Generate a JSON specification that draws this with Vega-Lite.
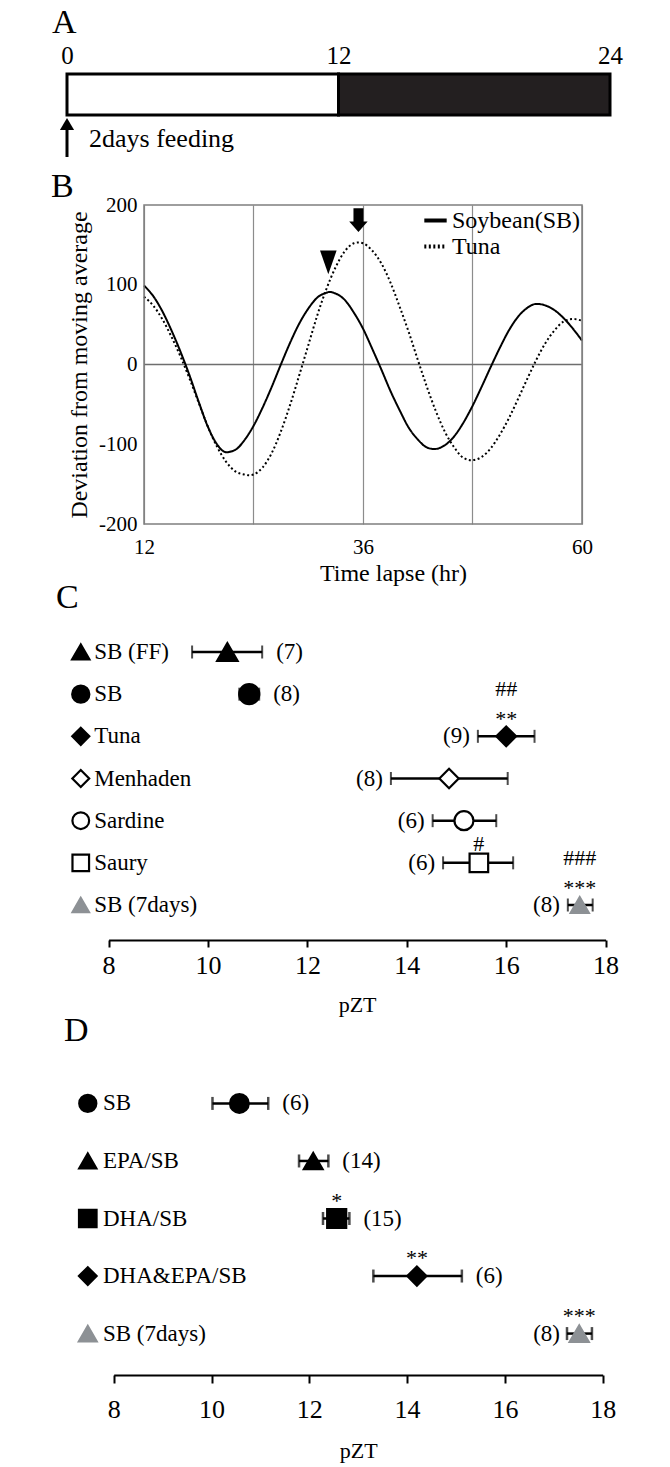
{
"$schema": "https://vega.github.io/schema/vega-lite/v6.json",
"padding": {"left": 51, "top": 6, "right": 2, "bottom": 2},
"bounds": "flush",
"spacing": 0,
"resolve": {
  "scale": {"shape": "independent", "fill": "independent", "stroke": "independent", "size": "independent", "strokeDash": "independent", "x": "independent", "y": "independent"},
  "legend": {"strokeDash": "independent", "shape": "independent", "fill": "independent", "stroke": "independent", "size": "independent"}
},
"config": {
  "font": "Liberation Serif",
  "view": {"stroke": null},
  "axis": {"labelFont": "Liberation Serif", "titleFont": "Liberation Serif", "labelColor": "black", "titleColor": "black", "titleFontWeight": "normal", "labelFlush": false, "labelOverlap": false},
  "title": {"font": "Liberation Serif", "fontWeight": "normal", "fontSize": 34, "color": "black"},
  "legend": {"labelFont": "Liberation Serif", "labelColor": "black"},
  "text": {"font": "Liberation Serif", "color": "black"},
  "concat": {"spacing": 0}
},
"vconcat": [
  {
    "width": 543, "height": 131,
    "title": {"text": "A", "anchor": "start", "frame": "group", "dx": -15, "offset": 3},
    "layer": [
      {
        "data": {"values": [{"start": 0, "end": 12, "phase": "light"}, {"start": 12, "end": 24, "phase": "dark"}]},
        "mark": {"type": "rect", "stroke": "black", "strokeWidth": 3},
        "encoding": {
          "x": {"field": "start", "type": "quantitative", "scale": {"domain": [0, 24], "nice": false}, "axis": {"orient": "top", "values": [0, 12, 24], "ticks": false, "domain": false, "grid": false, "labelFontSize": 25, "labelPadding": 6, "title": null}},
          "x2": {"field": "end"},
          "y": {"datum": 0, "type": "quantitative", "scale": {"domain": [0, 131], "reverse": true, "nice": false}, "axis": null},
          "y2": {"datum": 41},
          "fill": {"field": "phase", "type": "nominal", "scale": {"domain": ["light", "dark"], "range": ["white", "#231f20"]}, "legend": null}
        }
      },
      {
        "data": {"values": [{"hr": 0, "label": "2days feeding"}]},
        "layer": [
          {"mark": {"type": "rule", "color": "black", "strokeWidth": 3}, "encoding": {"x": {"field": "hr", "type": "quantitative"}, "y": {"datum": 50}, "y2": {"datum": 83}}},
          {"mark": {"type": "point", "shape": "triangle-up", "filled": true, "color": "black", "opacity": 1, "size": 200}, "encoding": {"x": {"field": "hr", "type": "quantitative"}, "y": {"datum": 50}}},
          {"mark": {"type": "text", "align": "left", "baseline": "middle", "fontSize": 26, "dx": 22}, "encoding": {"x": {"field": "hr", "type": "quantitative"}, "y": {"datum": 65}, "text": {"field": "label"}}}
        ]
      }
    ]
  },
  {
    "width": 515, "height": 319,
    "title": {"text": "B", "anchor": "start", "frame": "group", "dx": -16, "offset": -10},
    "layer": [
      {"data": {"values": [{}]}, "mark": {"type": "rule", "color": "#6e6e6e", "strokeWidth": 1.5}, "encoding": {"x": {"datum": 12, "type": "quantitative"}, "x2": {"datum": 60}, "y": {"datum": 0, "type": "quantitative"}}},
      {
        "data": {"values": [
          {"hr":12,"value":99,"series":"Soybean(SB)"},{"hr":13,"value":86,"series":"Soybean(SB)"},{"hr":14,"value":67,"series":"Soybean(SB)"},{"hr":15,"value":43,"series":"Soybean(SB)"},{"hr":16,"value":16,"series":"Soybean(SB)"},{"hr":17,"value":-14,"series":"Soybean(SB)"},{"hr":18,"value":-47,"series":"Soybean(SB)"},{"hr":19,"value":-78,"series":"Soybean(SB)"},{"hr":20,"value":-100,"series":"Soybean(SB)"},{"hr":21,"value":-110,"series":"Soybean(SB)"},{"hr":22,"value":-107,"series":"Soybean(SB)"},{"hr":23,"value":-95,"series":"Soybean(SB)"},{"hr":24,"value":-77,"series":"Soybean(SB)"},{"hr":25,"value":-54,"series":"Soybean(SB)"},{"hr":26,"value":-28,"series":"Soybean(SB)"},{"hr":27,"value":0,"series":"Soybean(SB)"},{"hr":28,"value":27,"series":"Soybean(SB)"},{"hr":29,"value":51,"series":"Soybean(SB)"},{"hr":30,"value":70,"series":"Soybean(SB)"},{"hr":31,"value":84,"series":"Soybean(SB)"},{"hr":32,"value":90,"series":"Soybean(SB)"},{"hr":32.3,"value":91,"series":"Soybean(SB)"},{"hr":33,"value":89,"series":"Soybean(SB)"},{"hr":34,"value":81,"series":"Soybean(SB)"},{"hr":35,"value":65,"series":"Soybean(SB)"},{"hr":36,"value":45,"series":"Soybean(SB)"},{"hr":37,"value":20,"series":"Soybean(SB)"},{"hr":38,"value":-6,"series":"Soybean(SB)"},{"hr":39,"value":-33,"series":"Soybean(SB)"},{"hr":40,"value":-57,"series":"Soybean(SB)"},{"hr":41,"value":-79,"series":"Soybean(SB)"},{"hr":42,"value":-94,"series":"Soybean(SB)"},{"hr":43,"value":-104,"series":"Soybean(SB)"},{"hr":43.8,"value":-106,"series":"Soybean(SB)"},{"hr":45,"value":-101,"series":"Soybean(SB)"},{"hr":46,"value":-90,"series":"Soybean(SB)"},{"hr":47,"value":-73,"series":"Soybean(SB)"},{"hr":48,"value":-52,"series":"Soybean(SB)"},{"hr":49,"value":-28,"series":"Soybean(SB)"},{"hr":50,"value":-3,"series":"Soybean(SB)"},{"hr":51,"value":21,"series":"Soybean(SB)"},{"hr":52,"value":43,"series":"Soybean(SB)"},{"hr":53,"value":60,"series":"Soybean(SB)"},{"hr":54,"value":71,"series":"Soybean(SB)"},{"hr":55,"value":76,"series":"Soybean(SB)"},{"hr":56,"value":74,"series":"Soybean(SB)"},{"hr":57,"value":68,"series":"Soybean(SB)"},{"hr":58,"value":58,"series":"Soybean(SB)"},{"hr":59,"value":45,"series":"Soybean(SB)"},{"hr":60,"value":30,"series":"Soybean(SB)"},
          {"hr":12,"value":85,"series":"Tuna"},{"hr":13,"value":74,"series":"Tuna"},{"hr":14,"value":57,"series":"Tuna"},{"hr":15,"value":35,"series":"Tuna"},{"hr":16,"value":10,"series":"Tuna"},{"hr":17,"value":-18,"series":"Tuna"},{"hr":18,"value":-48,"series":"Tuna"},{"hr":19,"value":-78,"series":"Tuna"},{"hr":20,"value":-103,"series":"Tuna"},{"hr":21,"value":-122,"series":"Tuna"},{"hr":22,"value":-134,"series":"Tuna"},{"hr":23,"value":-138,"series":"Tuna"},{"hr":23.6,"value":-139,"series":"Tuna"},{"hr":24,"value":-138,"series":"Tuna"},{"hr":25,"value":-129,"series":"Tuna"},{"hr":26,"value":-111,"series":"Tuna"},{"hr":27,"value":-84,"series":"Tuna"},{"hr":28,"value":-51,"series":"Tuna"},{"hr":29,"value":-14,"series":"Tuna"},{"hr":30,"value":24,"series":"Tuna"},{"hr":31,"value":62,"series":"Tuna"},{"hr":32,"value":95,"series":"Tuna"},{"hr":33,"value":122,"series":"Tuna"},{"hr":34,"value":142,"series":"Tuna"},{"hr":35,"value":152,"series":"Tuna"},{"hr":35.5,"value":153,"series":"Tuna"},{"hr":36,"value":152,"series":"Tuna"},{"hr":37,"value":143,"series":"Tuna"},{"hr":38,"value":127,"series":"Tuna"},{"hr":39,"value":103,"series":"Tuna"},{"hr":40,"value":73,"series":"Tuna"},{"hr":41,"value":41,"series":"Tuna"},{"hr":42,"value":6,"series":"Tuna"},{"hr":43,"value":-28,"series":"Tuna"},{"hr":44,"value":-59,"series":"Tuna"},{"hr":45,"value":-85,"series":"Tuna"},{"hr":46,"value":-104,"series":"Tuna"},{"hr":47,"value":-117,"series":"Tuna"},{"hr":47.9,"value":-120,"series":"Tuna"},{"hr":49,"value":-116,"series":"Tuna"},{"hr":50,"value":-105,"series":"Tuna"},{"hr":51,"value":-88,"series":"Tuna"},{"hr":52,"value":-67,"series":"Tuna"},{"hr":53,"value":-43,"series":"Tuna"},{"hr":54,"value":-18,"series":"Tuna"},{"hr":55,"value":6,"series":"Tuna"},{"hr":56,"value":27,"series":"Tuna"},{"hr":57,"value":43,"series":"Tuna"},{"hr":58,"value":54,"series":"Tuna"},{"hr":59,"value":57,"series":"Tuna"},{"hr":60,"value":55,"series":"Tuna"}
        ]},
        "mark": {"type": "line", "color": "black", "strokeWidth": 2, "interpolate": "monotone"},
        "encoding": {
          "x": {"field": "hr", "type": "quantitative", "scale": {"domain": [3.562, 60], "nice": false, "zero": false}, "axis": {"values": [12, 24, 36, 48, 60], "labelExpr": "datum.value == 24 || datum.value == 48 ? '' : datum.label", "grid": true, "gridColor": "#8c8c8c", "gridWidth": 1.2, "ticks": false, "domain": false, "labelFontSize": 21, "labelPadding": 12, "title": "Time lapse (hr)", "titleFontSize": 24, "titlePadding": 4, "titleX": 326, "titleAnchor": "middle"}},
          "y": {"field": "value", "type": "quantitative", "scale": {"domain": [-200, 200], "nice": false}, "axis": {"values": [-200, -100, 0, 100, 200], "labelExpr": "datum.value < 0 ? '-' + abs(datum.value) : datum.label", "grid": false, "ticks": false, "domain": false, "offset": -77, "labelFontSize": 21, "labelPadding": 7, "title": "Deviation from moving average", "titleFontSize": 24, "titlePadding": 7}},
          "strokeDash": {"field": "series", "type": "nominal", "scale": {"domain": ["Soybean(SB)", "Tuna"], "range": [[1, 0], [2, 2.5]]}, "legend": {"orient": "top-right", "title": null, "offset": 2, "padding": 0, "labelFontSize": 24, "symbolType": "stroke", "symbolSize": 500, "symbolStrokeWidth": 4, "symbolStrokeColor": "black", "labelOffset": 3, "rowPadding": 0}}
        }
      },
      {"data": {"values": [{}]}, "mark": {"type": "rect", "filled": false, "fill": null, "stroke": "#7f7f7f", "strokeWidth": 1.5}, "encoding": {"x": {"datum": 12, "type": "quantitative"}, "x2": {"datum": 60}, "y": {"datum": -200, "type": "quantitative"}, "y2": {"datum": 200}}},
      {
        "data": {"values": [{"hr": 32.2, "value": 128, "kind": "SB peak"}, {"hr": 35.5, "value": 181, "kind": "Tuna peak"}]},
        "mark": {"type": "point", "filled": true, "color": "black", "opacity": 1, "size": 560},
        "encoding": {
          "x": {"field": "hr", "type": "quantitative"},
          "y": {"field": "value", "type": "quantitative"},
          "shape": {"field": "kind", "type": "nominal", "scale": {"domain": ["SB peak", "Tuna peak"], "range": ["M-0.7,-1L0.7,-1L0,1Z", "M-0.42,-1L0.42,-1L0.42,0.12L0.78,0.12L0,1L-0.78,0.12L-0.42,0.12Z"]}, "legend": null}
        }
      }
    ]
  },
  {"width": 10, "height": 93, "data": {"values": []}, "mark": "point"},
  {
    "width": 538.6, "height": 323,
    "title": {"text": "C", "anchor": "start", "frame": "group", "dx": -11, "offset": 2},
    "data": {"values": [
      {"group":"SB (FF)","mean":10.39,"lo":9.68,"hi":11.09,"n":"(7)","side":"right","stars":"","hashes":""},
      {"group":"SB","mean":10.83,"lo":10.63,"hi":11.03,"n":"(8)","side":"right","stars":"","hashes":""},
      {"group":"Tuna","mean":16.0,"lo":15.43,"hi":16.57,"n":"(9)","side":"left","stars":"**","hashes":"##"},
      {"group":"Menhaden","mean":14.85,"lo":13.68,"hi":16.03,"n":"(8)","side":"left","stars":"","hashes":""},
      {"group":"Sardine","mean":15.15,"lo":14.52,"hi":15.8,"n":"(6)","side":"left","stars":"","hashes":""},
      {"group":"Saury","mean":15.45,"lo":14.73,"hi":16.14,"n":"(6)","side":"left","stars":"","hashes":"#"},
      {"group":"SB (7days)","mean":17.48,"lo":17.24,"hi":17.74,"n":"(8)","side":"left","stars":"***","hashes":"###"}
    ]},
    "encoding": {"y": {"field": "group", "type": "nominal", "scale": {"type": "point", "domain": ["SB (FF)", "SB", "Tuna", "Menhaden", "Sardine", "Saury", "SB (7days)"], "padding": 0.83}, "axis": null}},
    "resolve": {"scale": {"size": "independent"}},
    "layer": [
      {"mark": {"type": "rule", "color": "black", "strokeWidth": 2.5}, "encoding": {"x": {"field": "lo", "type": "quantitative", "scale": {"domain": [8, 18], "nice": false, "range": [41.6, 538.6]}, "axis": {"values": [8, 10, 12, 14, 16, 18], "domain": true, "domainColor": "black", "domainWidth": 2, "ticks": true, "tickColor": "black", "tickWidth": 2, "tickSize": 7, "labelFontSize": 26, "labelPadding": 5, "grid": false, "title": "pZT", "titleFontSize": 22, "titlePadding": 16}}, "x2": {"field": "hi"}}},
      {"mark": {"type": "tick", "color": "black", "size": 13, "thickness": 2}, "encoding": {"x": {"field": "lo", "type": "quantitative"}}},
      {"mark": {"type": "tick", "color": "black", "size": 13, "thickness": 2}, "encoding": {"x": {"field": "hi", "type": "quantitative"}}},
      {"mark": {"type": "point", "opacity": 1, "strokeWidth": 2.2}, "encoding": {
        "x": {"field": "mean", "type": "quantitative"},
        "shape": {"field": "group", "type": "nominal", "scale": {"domain": ["SB (FF)", "SB", "Tuna", "Menhaden", "Sardine", "Saury", "SB (7days)"], "range": ["triangle-up", "circle", "diamond", "diamond", "circle", "square", "triangle-up"]}, "legend": null},
        "fill": {"field": "group", "type": "nominal", "scale": {"domain": ["SB (FF)", "SB", "Tuna", "Menhaden", "Sardine", "Saury", "SB (7days)"], "range": ["black", "black", "black", "white", "white", "white", "#8d9195"]}, "legend": null},
        "stroke": {"field": "group", "type": "nominal", "scale": {"domain": ["SB (FF)", "SB", "Tuna", "Menhaden", "Sardine", "Saury", "SB (7days)"], "range": ["black", "black", "black", "black", "black", "black", "#8d9195"]}, "legend": null},
        "size": {"field": "group", "type": "nominal", "scale": {"domain": ["SB (FF)", "SB", "Tuna", "Menhaden", "Sardine", "Saury", "SB (7days)"], "range": [420, 330, 360, 360, 300, 290, 620]}, "legend": null}
      }},
      {"mark": {"type": "point", "opacity": 1, "strokeWidth": 2.2}, "encoding": {
        "x": {"datum": 7.44, "type": "quantitative"},
        "shape": {"field": "group", "type": "nominal", "legend": null},
        "fill": {"field": "group", "type": "nominal", "legend": null},
        "stroke": {"field": "group", "type": "nominal", "legend": null},
        "size": {"field": "group", "type": "nominal", "scale": {"domain": ["SB (FF)", "SB", "Tuna", "Menhaden", "Sardine", "Saury", "SB (7days)"], "range": [300, 270, 270, 250, 260, 220, 500]}, "legend": null}
      }},
      {"mark": {"type": "text", "align": "left", "baseline": "middle", "fontSize": 23}, "encoding": {"x": {"datum": 7.71, "type": "quantitative"}, "text": {"field": "group"}}},
      {"transform": [{"filter": "datum.side == 'left'"}], "mark": {"type": "text", "align": "right", "baseline": "middle", "fontSize": 23, "dx": -8}, "encoding": {"x": {"field": "lo", "type": "quantitative"}, "text": {"field": "n"}}},
      {"transform": [{"filter": "datum.side == 'right'"}], "mark": {"type": "text", "align": "left", "baseline": "middle", "fontSize": 23, "dx": 14}, "encoding": {"x": {"field": "hi", "type": "quantitative"}, "text": {"field": "n"}}},
      {"transform": [{"filter": "datum.stars != ''"}], "mark": {"type": "text", "align": "center", "baseline": "alphabetic", "fontSize": 22, "dy": -10}, "encoding": {"x": {"field": "mean", "type": "quantitative"}, "text": {"field": "stars"}}},
      {"transform": [{"filter": "datum.hashes != '' && datum.stars != ''"}], "mark": {"type": "text", "align": "center", "baseline": "alphabetic", "fontSize": 22, "dy": -40}, "encoding": {"x": {"field": "mean", "type": "quantitative"}, "text": {"field": "hashes"}}},
      {"transform": [{"filter": "datum.hashes != '' && datum.stars == ''"}], "mark": {"type": "text", "align": "center", "baseline": "alphabetic", "fontSize": 22, "dy": -12}, "encoding": {"x": {"field": "mean", "type": "quantitative"}, "text": {"field": "hashes"}}}
    ]
  },
  {"width": 10, "height": 122, "data": {"values": []}, "mark": "point"},
  {
    "width": 535.7, "height": 313,
    "title": {"text": "D", "anchor": "start", "frame": "group", "dx": -3, "offset": 14},
    "data": {"values": [
      {"group":"SB","mean":10.57,"lo":10.02,"hi":11.16,"n":"(6)","side":"right","stars":""},
      {"group":"EPA/SB","mean":12.08,"lo":11.79,"hi":12.39,"n":"(14)","side":"right","stars":""},
      {"group":"DHA/SB","mean":12.56,"lo":12.28,"hi":12.82,"n":"(15)","side":"right","stars":"*"},
      {"group":"DHA&EPA/SB","mean":14.2,"lo":13.31,"hi":15.12,"n":"(6)","side":"right","stars":"**"},
      {"group":"SB (7days)","mean":17.52,"lo":17.27,"hi":17.78,"n":"(8)","side":"left","stars":"***"}
    ]},
    "encoding": {"y": {"field": "group", "type": "nominal", "scale": {"type": "point", "domain": ["SB", "EPA/SB", "DHA/SB", "DHA&EPA/SB", "SB (7days)"], "padding": 0.72}, "axis": null}},
    "resolve": {"scale": {"size": "independent"}},
    "layer": [
      {"mark": {"type": "rule", "color": "black", "strokeWidth": 2.5}, "encoding": {"x": {"field": "lo", "type": "quantitative", "scale": {"domain": [8, 18], "nice": false, "range": [46.7, 535.7]}, "axis": {"values": [8, 10, 12, 14, 16, 18], "domain": true, "domainColor": "black", "domainWidth": 2, "ticks": true, "tickColor": "black", "tickWidth": 2, "tickSize": 8, "labelFontSize": 26, "labelPadding": 13, "grid": false, "title": "pZT", "titleFontSize": 22, "titlePadding": 18}}, "x2": {"field": "hi"}}},
      {"mark": {"type": "tick", "color": "black", "size": 13, "thickness": 2.5}, "encoding": {"x": {"field": "lo", "type": "quantitative"}}},
      {"mark": {"type": "tick", "color": "black", "size": 13, "thickness": 2.5}, "encoding": {"x": {"field": "hi", "type": "quantitative"}}},
      {"mark": {"type": "point", "opacity": 1, "strokeWidth": 2}, "encoding": {
        "x": {"field": "mean", "type": "quantitative"},
        "shape": {"field": "group", "type": "nominal", "scale": {"domain": ["SB", "EPA/SB", "DHA/SB", "DHA&EPA/SB", "SB (7days)"], "range": ["circle", "triangle-up", "square", "diamond", "triangle-up"]}, "legend": null},
        "fill": {"field": "group", "type": "nominal", "scale": {"domain": ["SB", "EPA/SB", "DHA/SB", "DHA&EPA/SB", "SB (7days)"], "range": ["black", "black", "black", "black", "#8d9195"]}, "legend": null},
        "stroke": {"field": "group", "type": "nominal", "scale": {"domain": ["SB", "EPA/SB", "DHA/SB", "DHA&EPA/SB", "SB (7days)"], "range": ["black", "black", "black", "black", "#8d9195"]}, "legend": null},
        "size": {"field": "group", "type": "nominal", "scale": {"domain": ["SB", "EPA/SB", "DHA/SB", "DHA&EPA/SB", "SB (7days)"], "range": [360, 380, 320, 380, 620]}, "legend": null}
      }},
      {"mark": {"type": "point", "opacity": 1, "strokeWidth": 2}, "encoding": {
        "x": {"datum": 7.47, "type": "quantitative"},
        "shape": {"field": "group", "type": "nominal", "legend": null},
        "fill": {"field": "group", "type": "nominal", "legend": null},
        "stroke": {"field": "group", "type": "nominal", "legend": null},
        "size": {"field": "group", "type": "nominal", "scale": {"domain": ["SB", "EPA/SB", "DHA/SB", "DHA&EPA/SB", "SB (7days)"], "range": [300, 330, 300, 300, 470]}, "legend": null}
      }},
      {"mark": {"type": "text", "align": "left", "baseline": "middle", "fontSize": 23}, "encoding": {"x": {"datum": 7.78, "type": "quantitative"}, "text": {"field": "group"}}},
      {"transform": [{"filter": "datum.side == 'left'"}], "mark": {"type": "text", "align": "right", "baseline": "middle", "fontSize": 23, "dx": -7}, "encoding": {"x": {"field": "lo", "type": "quantitative"}, "text": {"field": "n"}}},
      {"transform": [{"filter": "datum.side == 'right'"}], "mark": {"type": "text", "align": "left", "baseline": "middle", "fontSize": 23, "dx": 14}, "encoding": {"x": {"field": "hi", "type": "quantitative"}, "text": {"field": "n"}}},
      {"transform": [{"filter": "datum.stars != ''"}], "mark": {"type": "text", "align": "center", "baseline": "alphabetic", "fontSize": 22, "dy": -11}, "encoding": {"x": {"field": "mean", "type": "quantitative"}, "text": {"field": "stars"}}}
    ]
  }
]
}
